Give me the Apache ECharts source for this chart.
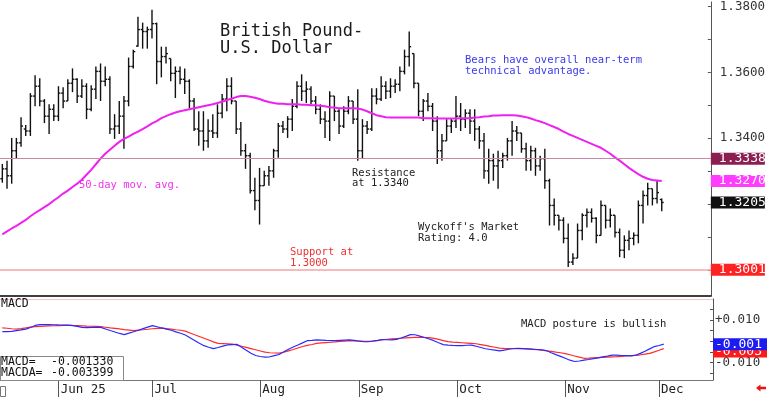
<!DOCTYPE html>
<html>
<head>
<meta charset="utf-8">
<style>
  html, body { margin: 0; padding: 0; background: #fff; }
  #chart { width: 768px; height: 397px; }
</style>
<script src="https://cdn.jsdelivr.net/npm/echarts@6/dist/echarts.min.js"></script>
</head>
<body>
<div id="chart"></div>
<script>
// trading calendar: weekdays, minus the two days the feed skips
const firstDay = '2025-05-15';
const holidays = ['2025-06-19', '2025-09-01'];
const slots = 152; // 142 bars + empty room on the right

const monthLabels = ['Jun 25', 'Jul', 'Aug', 'Sep', 'Oct', 'Nov', 'Dec'];

const opens = [
  1.3277, 1.3307, 1.3286, 1.3362, 1.3386, 1.3428, 1.3422, 1.3528, 1.3558, 1.3513,
  1.3467, 1.3488, 1.3467, 1.3537, 1.3513, 1.3567, 1.3579, 1.3528, 1.3558, 1.3488,
  1.3549, 1.3603, 1.3573, 1.3579, 1.3428, 1.3437, 1.3467, 1.3513, 1.3618, 1.3680,
  1.3730, 1.3724, 1.3730, 1.3748, 1.3633, 1.3648, 1.3642, 1.3597, 1.3603, 1.3579,
  1.3573, 1.3513, 1.3428, 1.3422, 1.3392, 1.3422, 1.3416, 1.3476, 1.3519, 1.3558,
  1.3513, 1.3428, 1.3362, 1.3347, 1.3241, 1.3211, 1.3256, 1.3286, 1.3301, 1.3362,
  1.3437, 1.3428, 1.3458, 1.3497, 1.3558, 1.3543, 1.3549, 1.3513, 1.3488, 1.3458,
  1.3452, 1.3528, 1.3482, 1.3437, 1.3482, 1.3513, 1.3458, 1.3362, 1.3437, 1.3428,
  1.3528, 1.3519, 1.3558, 1.3543, 1.3558, 1.3564, 1.3603, 1.3648, 1.3657, 1.3567,
  1.3482, 1.3513, 1.3497, 1.3452, 1.3362, 1.3392, 1.3437, 1.3452, 1.3467, 1.3458,
  1.3476, 1.3452, 1.3428, 1.3392, 1.3301, 1.3332, 1.3316, 1.3332, 1.3347, 1.3392,
  1.3422, 1.3416, 1.3368, 1.3332, 1.3362, 1.3316, 1.3338, 1.3271, 1.3196, 1.3166,
  1.3151, 1.3096, 1.3024, 1.3036, 1.3120, 1.3166, 1.3175, 1.3157, 1.3105, 1.3196,
  1.3151, 1.3166, 1.3114, 1.3060, 1.3090, 1.3096, 1.3105, 1.3196, 1.3226, 1.3247,
  1.3217, 1.3214
];
const highs = [
  1.3322, 1.3332, 1.3401, 1.3401, 1.3464, 1.3440, 1.3537, 1.3591, 1.3582, 1.3519,
  1.3503, 1.3503, 1.3558, 1.3555, 1.3579, 1.3612, 1.3582, 1.3579, 1.3567, 1.3561,
  1.3618, 1.3627, 1.3618, 1.3588, 1.3473, 1.3513, 1.3528, 1.3645, 1.3669, 1.3769,
  1.3751, 1.3739, 1.3790, 1.3751, 1.3678, 1.3678, 1.3642, 1.3618, 1.3618, 1.3612,
  1.3579, 1.3522, 1.3482, 1.3482, 1.3458, 1.3473, 1.3503, 1.3534, 1.3582, 1.3585,
  1.3513, 1.3449, 1.3383, 1.3356, 1.3280, 1.3310, 1.3301, 1.3316, 1.3368, 1.3446,
  1.3452, 1.3467, 1.3519, 1.3573, 1.3594, 1.3573, 1.3558, 1.3528, 1.3503, 1.3482,
  1.3543, 1.3528, 1.3488, 1.3497, 1.3528, 1.3513, 1.3549, 1.3458, 1.3452, 1.3552,
  1.3552, 1.3588, 1.3573, 1.3582, 1.3579, 1.3618, 1.3669, 1.3724, 1.3657, 1.3567,
  1.3519, 1.3537, 1.3507, 1.3467, 1.3413, 1.3458, 1.3461, 1.3528, 1.3507, 1.3488,
  1.3488, 1.3488, 1.3437, 1.3416, 1.3368, 1.3353, 1.3362, 1.3356, 1.3401, 1.3452,
  1.3437, 1.3416, 1.3386, 1.3377, 1.3371, 1.3347, 1.3368, 1.3277, 1.3217, 1.3166,
  1.3160, 1.3141, 1.3051, 1.3141, 1.3172, 1.3187, 1.3187, 1.3160, 1.3211, 1.3196,
  1.3187, 1.3166, 1.3126, 1.3105, 1.3120, 1.3114, 1.3211, 1.3241, 1.3265, 1.3247,
  1.3271, 1.3217
];
const lows = [
  1.3265, 1.3247, 1.3262, 1.3338, 1.3374, 1.3407, 1.3407, 1.3497, 1.3497, 1.3446,
  1.3413, 1.3452, 1.3452, 1.3491, 1.3513, 1.3540, 1.3507, 1.3522, 1.3458, 1.3482,
  1.3519, 1.3513, 1.3558, 1.3413, 1.3398, 1.3413, 1.3368, 1.3497, 1.3612, 1.3678,
  1.3672, 1.3672, 1.3703, 1.3564, 1.3585, 1.3627, 1.3573, 1.3522, 1.3564, 1.3534,
  1.3491, 1.3422, 1.3377, 1.3362, 1.3371, 1.3401, 1.3401, 1.3461, 1.3482, 1.3503,
  1.3413, 1.3347, 1.3307, 1.3232, 1.3181, 1.3138, 1.3256, 1.3256, 1.3280, 1.3341,
  1.3416, 1.3401, 1.3422, 1.3491, 1.3513, 1.3507, 1.3503, 1.3473, 1.3443, 1.3401,
  1.3392, 1.3452, 1.3413, 1.3431, 1.3473, 1.3443, 1.3332, 1.3338, 1.3413, 1.3422,
  1.3503, 1.3513, 1.3519, 1.3522, 1.3537, 1.3543, 1.3594, 1.3618, 1.3552, 1.3467,
  1.3452, 1.3482, 1.3422, 1.3322, 1.3332, 1.3392, 1.3416, 1.3431, 1.3422, 1.3431,
  1.3413, 1.3392, 1.3368, 1.3277, 1.3262, 1.3271, 1.3247, 1.3310, 1.3332, 1.3347,
  1.3392, 1.3356, 1.3301, 1.3301, 1.3286, 1.3301, 1.3247, 1.3135, 1.3135, 1.3120,
  1.3081, 1.3009, 1.3015, 1.3036, 1.3090, 1.3129, 1.3144, 1.3081, 1.3105, 1.3126,
  1.3129, 1.3099, 1.3039, 1.3036, 1.3060, 1.3075, 1.3081, 1.3141, 1.3196, 1.3196,
  1.3202, 1.3178
];
const closes = [
  1.3307, 1.3286, 1.3362, 1.3386, 1.3437, 1.3422, 1.3528, 1.3558, 1.3513, 1.3467,
  1.3488, 1.3467, 1.3537, 1.3513, 1.3567, 1.3579, 1.3528, 1.3558, 1.3488, 1.3549,
  1.3603, 1.3573, 1.3579, 1.3428, 1.3437, 1.3467, 1.3513, 1.3618, 1.3663, 1.3730,
  1.3724, 1.3730, 1.3748, 1.3633, 1.3648, 1.3657, 1.3597, 1.3603, 1.3579, 1.3573,
  1.3513, 1.3428, 1.3422, 1.3392, 1.3422, 1.3416, 1.3476, 1.3519, 1.3558, 1.3513,
  1.3428, 1.3362, 1.3347, 1.3241, 1.3211, 1.3256, 1.3286, 1.3301, 1.3362, 1.3437,
  1.3428, 1.3458, 1.3497, 1.3558, 1.3543, 1.3549, 1.3513, 1.3488, 1.3458, 1.3452,
  1.3528, 1.3482, 1.3437, 1.3482, 1.3513, 1.3458, 1.3362, 1.3437, 1.3428, 1.3528,
  1.3519, 1.3558, 1.3543, 1.3558, 1.3564, 1.3603, 1.3648, 1.3678, 1.3567, 1.3482,
  1.3513, 1.3497, 1.3452, 1.3362, 1.3392, 1.3437, 1.3452, 1.3467, 1.3458, 1.3476,
  1.3452, 1.3428, 1.3392, 1.3301, 1.3332, 1.3316, 1.3332, 1.3347, 1.3392, 1.3422,
  1.3416, 1.3368, 1.3332, 1.3362, 1.3316, 1.3338, 1.3271, 1.3196, 1.3166, 1.3151,
  1.3096, 1.3024, 1.3036, 1.3120, 1.3166, 1.3175, 1.3157, 1.3105, 1.3196, 1.3151,
  1.3166, 1.3114, 1.3060, 1.3090, 1.3096, 1.3105, 1.3196, 1.3226, 1.3247, 1.3217,
  1.3235, 1.3205
];

// 50-day moving average as drawn on the chart
const ma50 = [
  1.3108, 1.3117, 1.3126, 1.3134, 1.3143, 1.3152, 1.3163, 1.3173, 1.3182, 1.3191,
  1.3200, 1.3211, 1.3221, 1.3232, 1.3241, 1.3252, 1.3262, 1.3274, 1.3289, 1.3304,
  1.3321, 1.3338, 1.3353, 1.3365, 1.3377, 1.3389, 1.3398, 1.3405, 1.3413, 1.3420,
  1.3428, 1.3436, 1.3445, 1.3452, 1.3461, 1.3467, 1.3473, 1.3478, 1.3482, 1.3485,
  1.3488, 1.3491, 1.3494, 1.3497, 1.3500, 1.3503, 1.3507, 1.3511, 1.3516, 1.3520,
  1.3525, 1.3528, 1.3528, 1.3526, 1.3523, 1.3519, 1.3514, 1.3510, 1.3507, 1.3505,
  1.3505, 1.3503, 1.3503, 1.3503, 1.3502, 1.3502, 1.3500, 1.3500, 1.3499, 1.3497,
  1.3494, 1.3493, 1.3491, 1.3491, 1.3491, 1.3491, 1.3490, 1.3487, 1.3482, 1.3476,
  1.3470, 1.3467, 1.3464, 1.3463, 1.3463, 1.3463, 1.3463, 1.3463, 1.3463, 1.3463,
  1.3461, 1.3461, 1.3461, 1.3460, 1.3460, 1.3460, 1.3460, 1.3460, 1.3461, 1.3461,
  1.3461, 1.3463, 1.3464, 1.3466, 1.3467, 1.3469, 1.3469, 1.3470, 1.3470, 1.3470,
  1.3469, 1.3467, 1.3464, 1.3460, 1.3455, 1.3451, 1.3446, 1.3440, 1.3434, 1.3428,
  1.3420, 1.3413, 1.3407, 1.3401, 1.3395, 1.3389, 1.3383, 1.3377, 1.3371, 1.3362,
  1.3353, 1.3342, 1.3332, 1.3321, 1.3310, 1.3300, 1.3291, 1.3283, 1.3277, 1.3273,
  1.3272, 1.3270
];

const macd = [
  0.00452, 0.00452, 0.00461, 0.00499, 0.00532, 0.00569, 0.00649, 0.00742, 0.00780, 0.00780,
  0.00780, 0.00775, 0.00766, 0.00761, 0.00756, 0.00733, 0.00696, 0.00653, 0.00644, 0.00649,
  0.00653, 0.00653, 0.00578, 0.00504, 0.00438, 0.00368, 0.00316, 0.00382, 0.00447, 0.00518,
  0.00593, 0.00663, 0.00733, 0.00682, 0.00625, 0.00574, 0.00518, 0.00443, 0.00377, 0.00297,
  0.00171, 0.00040, -0.00091, -0.00204, -0.00279, -0.00340, -0.00288, -0.00227, -0.00171, -0.00152,
  -0.00138, -0.00274, -0.00415, -0.00555, -0.00663, -0.00710, -0.00742, -0.00724, -0.00667, -0.00616,
  -0.00489, -0.00368, -0.00265, -0.00171, -0.00073, 0.00030, 0.00044, 0.00063, 0.00054, 0.00044,
  0.00035, 0.00035, 0.00044, 0.00054, 0.00063, 0.00040, 0.00016, -0.00012, -0.00021, 0.00016,
  0.00044, 0.00082, 0.00073, 0.00068, 0.00091, 0.00157, 0.00232, 0.00311, 0.00307, 0.00246,
  0.00180, 0.00110, 0.00030, -0.00068, -0.00157, -0.00176, -0.00190, -0.00199, -0.00199, -0.00185,
  -0.00176, -0.00232, -0.00288, -0.00349, -0.00382, -0.00415, -0.00447, -0.00410, -0.00372, -0.00335,
  -0.00330, -0.00340, -0.00354, -0.00368, -0.00382, -0.00400, -0.00429, -0.00536, -0.00621, -0.00705,
  -0.00794, -0.00883, -0.00944, -0.00920, -0.00883, -0.00850, -0.00813, -0.00771, -0.00728, -0.00691,
  -0.00649, -0.00649, -0.00663, -0.00672, -0.00682, -0.00649, -0.00564, -0.00466, -0.00354, -0.00246,
  -0.00194, -0.001330
];
const macdSignal = [
  0.00630, 0.00611, 0.00588, 0.00569, 0.00593, 0.00625, 0.00663, 0.00691, 0.00700, 0.00710,
  0.00719, 0.00728, 0.00738, 0.00747, 0.00752, 0.00742, 0.00733, 0.00724, 0.00714, 0.00705,
  0.00696, 0.00686, 0.00658, 0.00630, 0.00607, 0.00578, 0.00550, 0.00527, 0.00499, 0.00522,
  0.00541, 0.00564, 0.00588, 0.00607, 0.00621, 0.00593, 0.00569, 0.00541, 0.00518, 0.00475,
  0.00391, 0.00307, 0.00227, 0.00143, 0.00059, -0.00026, -0.00096, -0.00105, -0.00119, -0.00133,
  -0.00176, -0.00232, -0.00283, -0.00340, -0.00396, -0.00452, -0.00508, -0.00536, -0.00546, -0.00555,
  -0.00513, -0.00447, -0.00382, -0.00311, -0.00241, -0.00190, -0.00148, -0.00096, -0.00077, -0.00059,
  -0.00044, -0.00026, -0.00007, 0.00012, 0.00030, 0.00016, 0.00007, -0.00007, -0.00007, 0.00007,
  0.00035, 0.00073, 0.00096, 0.00115, 0.00129, 0.00143, 0.00157, 0.00171, 0.00185, 0.00190,
  0.00180, 0.00171, 0.00138, 0.00087, 0.00035, -0.00016, -0.00040, -0.00054, -0.00068, -0.00082,
  -0.00096, -0.00115, -0.00152, -0.00194, -0.00237, -0.00279, -0.00321, -0.00330, -0.00335, -0.00340,
  -0.00340, -0.00344, -0.00358, -0.00377, -0.00391, -0.00410, -0.00443, -0.00471, -0.00504, -0.00536,
  -0.00574, -0.00630, -0.00686, -0.00742, -0.00794, -0.00785, -0.00771, -0.00761, -0.00752, -0.00742,
  -0.00728, -0.00719, -0.00705, -0.00686, -0.00672, -0.00658, -0.00630, -0.00597, -0.00564, -0.00494,
  -0.00419, -0.003399
];

const resistanceLevel = 1.3338;
const supportLevel = 1.3001;
const priceTicks = [1.30, 1.31, 1.32, 1.33, 1.34, 1.35, 1.36, 1.37, 1.38];
const priceLabels = [1.34, 1.36, 1.38];
const macdTicks = [-0.015, -0.010, -0.005, 0, 0.005, 0.010, 0.015];
const macdLabels = [0.010, -0.010];

const FONT = 'DejaVu Sans Mono';
const HIDDEN = 'rgba(0,0,0,0)';

function tradingDays(start, count) {
    const out = [];
    const d = new Date(start + 'T00:00:00Z');
    while (out.length < count) {
        const wd = d.getUTCDay();
        const s = d.toISOString().slice(0, 10);
        if (wd !== 0 && wd !== 6 && holidays.indexOf(s) < 0) out.push(s);
        d.setUTCDate(d.getUTCDate() + 1);
    }
    return out;
}

const days = tradingDays(firstDay, slots);

// first bar of each month gets a tick + label
const monthTick = {};
let m = 0;
for (let i = 1; i < days.length; i++) {
    if (days[i].slice(0, 7) !== days[i - 1].slice(0, 7) && m < monthLabels.length) {
        monthTick[i] = monthLabels[m++];
    }
}

const ohlc = closes.map((c, i) => [i, opens[i], highs[i], lows[i], c]);

function drawBar(params, api) {
    const i = api.value(0);
    const hi = api.coord([i, api.value(2)]);
    const lo = api.coord([i, api.value(3)]);
    const op = api.coord([i, api.value(1)]);
    const cl = api.coord([i, api.value(4)]);
    const half = api.size([1, 0])[0] * 0.42;
    const style = { stroke: '#111', lineWidth: 1.4 };
    return {
        type: 'group',
        children: [
            { type: 'line', shape: { x1: hi[0], y1: hi[1], x2: lo[0], y2: lo[1] }, style: style },
            { type: 'line', shape: { x1: op[0] - half, y1: op[1], x2: op[0], y2: op[1] }, style: style },
            { type: 'line', shape: { x1: cl[0], y1: cl[1], x2: cl[0] + half, y2: cl[1] }, style: style }
        ]
    };
}

function boxLabel(text, bg, padLeft) {
    return {
        show: true,
        position: 'end',
        distance: 0,
        formatter: text,
        color: '#fff',
        backgroundColor: bg,
        fontFamily: FONT,
        fontSize: 13,
        lineHeight: 12,
        width: 52 - padLeft,
        align: 'left',
        padding: [0, 2, 0, padLeft]
    };
}

function note(text, x, y, color, size) {
    return {
        type: 'text',
        x: x, y: y,
        style: {
            text: text, fill: color, font: size + 'px "' + FONT + '"',
            textVerticalAlign: 'middle'
        }
    };
}

const lastClose = closes[closes.length - 1];
const lastMa = ma50[ma50.length - 1];
const lastMacd = macd[macd.length - 1];
const lastSignal = macdSignal[macdSignal.length - 1];

var chartDom = document.getElementById('chart');
var myChart = echarts.init(chartDom, null, { renderer: 'canvas' });
var option;

option = {
    animation: false,
    backgroundColor: '#fff',
    textStyle: { fontFamily: FONT },
    grid: [
        { left: 0, right: 55, top: 0, height: 296 },
        { left: 0, right: 55, top: 299, height: 81 }
    ],
    xAxis: [
        {
            type: 'category', gridIndex: 0, data: days,
            axisLine: { onZero: false, lineStyle: { color: '#000', width: 1.5 } },
            axisTick: { show: false }, axisLabel: { show: false }, splitLine: { show: false }
        },
        {
            type: 'category', gridIndex: 1, data: days,
            axisLine: { onZero: false, lineStyle: { color: '#777', width: 1 } },
            axisTick: {
                show: true, alignWithLabel: true, length: 17,
                interval: (i) => monthTick[i] !== undefined,
                lineStyle: { color: '#555' }
            },
            axisLabel: {
                interval: (i) => monthTick[i] !== undefined,
                formatter: (v, i) => monthTick[i] || '',
                align: 'left', margin: 3, padding: [0, 0, 0, 2],
                color: '#222', fontSize: 12.5, fontFamily: FONT
            },
            splitLine: { show: false }
        }
    ],
    yAxis: [
        {
            type: 'value', gridIndex: 0, position: 'right',
            min: 1.2921, max: 1.3814, scale: true,
            axisLine: { show: true, lineStyle: { color: '#555' } },
            axisTick: { show: true, inside: true, length: 3, customValues: priceTicks, lineStyle: { color: '#555' } },
            axisLabel: {
                customValues: priceLabels, formatter: (v) => v.toFixed(4),
                margin: 9, color: '#333', fontSize: 12.5, fontFamily: FONT
            },
            splitLine: { show: false }
        },
        {
            type: 'value', gridIndex: 1, position: 'right',
            min: -0.0181, max: 0.0198,
            axisLine: { show: true, lineStyle: { color: '#555' } },
            axisTick: { show: true, inside: true, length: 3, customValues: macdTicks, lineStyle: { color: '#555' } },
            axisLabel: {
                customValues: macdLabels,
                formatter: (v) => (v > 0 ? '+' : '') + v.toFixed(3),
                margin: 2, color: '#333', fontSize: 12.5, fontFamily: FONT
            },
            splitLine: { show: false }
        }
    ],
    series: [
        {
            name: 'GBPUSD',
            type: 'custom',
            xAxisIndex: 0, yAxisIndex: 0,
            renderItem: drawBar,
            encode: { x: 0, y: [1, 2, 3, 4] },
            data: ohlc,
            z: 3
        },
        {
            name: '50-day',
            type: 'line',
            xAxisIndex: 0, yAxisIndex: 0,
            data: ma50,
            symbol: 'none',
            lineStyle: { color: '#f020f0', width: 2 },
            z: 4,
            markLine: {
                silent: true, symbol: ['none', 'none'], animation: false, precision: 4,
                data: [
                    { yAxis: resistanceLevel, lineStyle: { color: '#c58aa2', width: 1.2, type: 'solid' },
                      label: boxLabel(resistanceLevel.toFixed(4), '#8c1f52', 8) },
                    { yAxis: supportLevel, lineStyle: { color: '#f6a4a4', width: 1.5, type: 'solid' },
                      label: boxLabel(supportLevel.toFixed(4), '#ff2222', 8) },
                    { yAxis: lastMa, lineStyle: { color: HIDDEN, width: 0 },
                      label: boxLabel(lastMa.toFixed(4), '#ff3cff', 8) },
                    { yAxis: lastClose, lineStyle: { color: HIDDEN, width: 0 },
                      label: boxLabel(lastClose.toFixed(4), '#111111', 8) }
                ]
            }
        },
        {
            name: 'MACDA',
            type: 'line',
            xAxisIndex: 1, yAxisIndex: 1,
            data: macdSignal,
            symbol: 'none',
            lineStyle: { color: '#ff2a2a', width: 1.2 },
            markLine: {
                silent: true, symbol: ['none', 'none'], animation: false, z: 5, precision: 6,
                data: [{ yAxis: lastSignal, lineStyle: { color: HIDDEN, width: 0 },
                         label: Object.assign(boxLabel(lastSignal.toFixed(3), '#ff1a1a', 2), { offset: [0, 3] }) }]
            }
        },
        {
            name: 'MACD',
            type: 'line',
            xAxisIndex: 1, yAxisIndex: 1,
            data: macd,
            symbol: 'none',
            lineStyle: { color: '#2a2aff', width: 1.2 },
            markLine: {
                silent: true, symbol: ['none', 'none'], animation: false, z: 6, precision: 6,
                data: [{ yAxis: lastMacd, lineStyle: { color: HIDDEN, width: 0 },
                         label: boxLabel(lastMacd.toFixed(3), '#1c1cf2', 2) }]
            }
        }
    ],
    graphic: [
        { type: 'line', shape: { x1: 0, y1: 299.5, x2: 713, y2: 299.5 }, style: { stroke: '#f3c6c6', lineWidth: 1 } },
        note('British Pound-', 220, 32, '#1a1a1a', 17),
        note('U.S. Dollar', 220, 48.5, '#1a1a1a', 17),
        note('Bears have overall near-term', 465, 60.5, '#3a3aee', 10.5),
        note('technical advantage.', 465, 71.5, '#3a3aee', 10.5),
        note('50-day mov. avg.', 79, 185.7, '#ee33ee', 10.5),
        note('Resistance', 352, 173.3, '#222', 10.5),
        note('at 1.3340', 352, 183.5, '#222', 10.5),
        note("Wyckoff's Market", 418, 227.3, '#222', 10.5),
        note('Rating: 4.0', 418, 238, '#222', 10.5),
        note('Support at', 290, 252.7, '#ee3030', 10.5),
        note('1.3000', 290, 263, '#ee3030', 10.5),
        note('MACD posture is bullish', 521, 324, '#222', 10.5),
        note('MACD', 1, 304.5, '#111', 11.5),
        { type: 'rect', shape: { x: 0.5, y: 356.5, width: 123, height: 24 },
          style: { fill: '#fff', stroke: '#888', lineWidth: 1 }, z: 10 },
        Object.assign(note('MACD=', 1, 362, '#111', 11.5), { z: 11 }),
        Object.assign(note(lastMacd.toFixed(6), 51, 362, '#111', 11.5), { z: 11 }),
        Object.assign(note('MACDA=', 1, 373.5, '#111', 11.5), { z: 11 }),
        Object.assign(note(lastSignal.toFixed(6), 51, 373.5, '#111', 11.5), { z: 11 }),
        { type: 'rect', shape: { x: 0.5, y: 386.5, width: 5, height: 10 }, style: { fill: '#fff', stroke: '#777' } },
        { type: 'polygon',
          shape: { points: [[756, 388], [760.5, 384.5], [760.5, 386.8], [766, 386.8], [766, 389.2], [760.5, 389.2], [760.5, 391.5]] },
          style: { fill: '#ee1111' } }
    ]
};

option && myChart.setOption(option);
</script>
</body>
</html>
